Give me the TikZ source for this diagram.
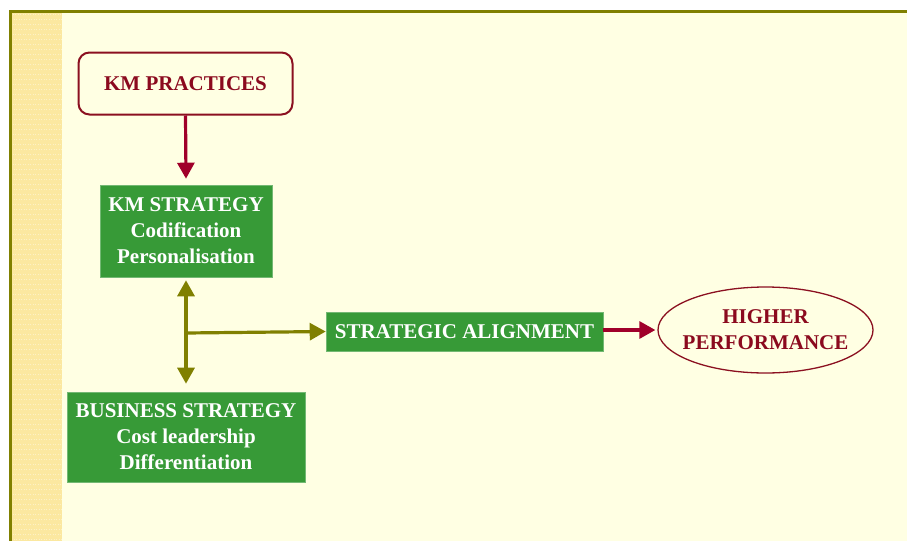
\documentclass[tikz,border=0pt]{standalone}
\usepackage{fontspec}
\setmainfont{Liberation Serif}
\usetikzlibrary{shapes.geometric,arrows.meta}
\definecolor{bgyellow}{HTML}{FFFFE3}
\definecolor{stripyellow}{HTML}{FBE8A0}
\definecolor{olivec}{HTML}{808000}
\definecolor{darkred}{HTML}{8B1020}
\definecolor{arrowred}{HTML}{A0002A}
\definecolor{textred}{HTML}{8B0A1E}
\definecolor{boxgreen}{HTML}{379A37}
\tikzset{
  greenbox/.style={fill=boxgreen, draw=boxgreen!70!white, line width=0.6pt, text=white, font=\bfseries\fontsize{21}{26}\selectfont, align=center, inner sep=0pt},
  redarrow/.style={draw=arrowred, line width=3.2pt, -{Triangle[length=16pt,width=17pt]}},
  olivearrow/.style={draw=olivec, line width=3.2pt},
  olivetip/.style={-{Triangle[length=16pt,width=17pt]}},
}
\begin{document}
\begin{tikzpicture}[x=1pt,y=-1pt]
\useasboundingbox (0,0) rectangle (907,541);
\fill[white] (0,0) rectangle (907,541);
\fill[bgyellow] (10,11) rectangle (907,541);
\fill[stripyellow] (12,13) rectangle (62,541);
\foreach \i in {0,...,105}{
  \foreach \j in {0,...,19}{
    \pgfmathsetmacro{\xx}{12.5+\j*2.5+mod(\i,2)*1.25}
    \pgfmathsetmacro{\yy}{13.5+\i*5}
    \fill[white,opacity=0.4] (\xx,\yy) rectangle ++(1.2,1.2);
  }
}
\draw[olivec, line width=3pt] (10.5,541) -- (10.5,11.5) -- (907,11.5);

\node[draw=darkred, line width=2pt, rounded corners=11pt, minimum width=214pt, minimum height=62pt, text=textred, font=\bfseries\fontsize{21}{24}\selectfont, inner sep=0pt] (kmp) at (185.5,83.5) {KM PRACTICES};

\node[greenbox, minimum width=172pt, minimum height=92pt] (kms) at (186,231) {KM STRATEGY\\Codification\\Personalisation};

\node[greenbox, minimum width=277pt, minimum height=39pt] (sa) at (464.5,331.5) {STRATEGIC ALIGNMENT};

\node[greenbox, minimum width=238pt, minimum height=90pt] (bs) at (186,437) {BUSINESS STRATEGY\\Cost leadership\\Differentiation};

\node[draw=darkred, line width=1.3pt, ellipse, minimum width=215pt, minimum height=86pt, inner sep=0pt] (hp) at (765.5,330) {};
\node[text=textred, font=\bfseries\fontsize{21}{26}\selectfont, align=center, inner sep=0pt] (hptext) at (hp.center) {HIGHER\\PERFORMANCE};

\draw[redarrow] (kmp.south) -- ([yshift=6pt]kms.north);
\coordinate (br) at (186,333);
\draw[olivearrow, olivetip] (br) -- ([yshift=-3pt]kms.south);
\draw[olivearrow, olivetip] (br) -- ([yshift=8pt]bs.north);
\draw[olivearrow, olivetip] (br) -- (sa.west);
\draw[redarrow] (sa.east |- hp.west) -- ([xshift=-2pt]hp.west);
\end{tikzpicture}
\end{document}
